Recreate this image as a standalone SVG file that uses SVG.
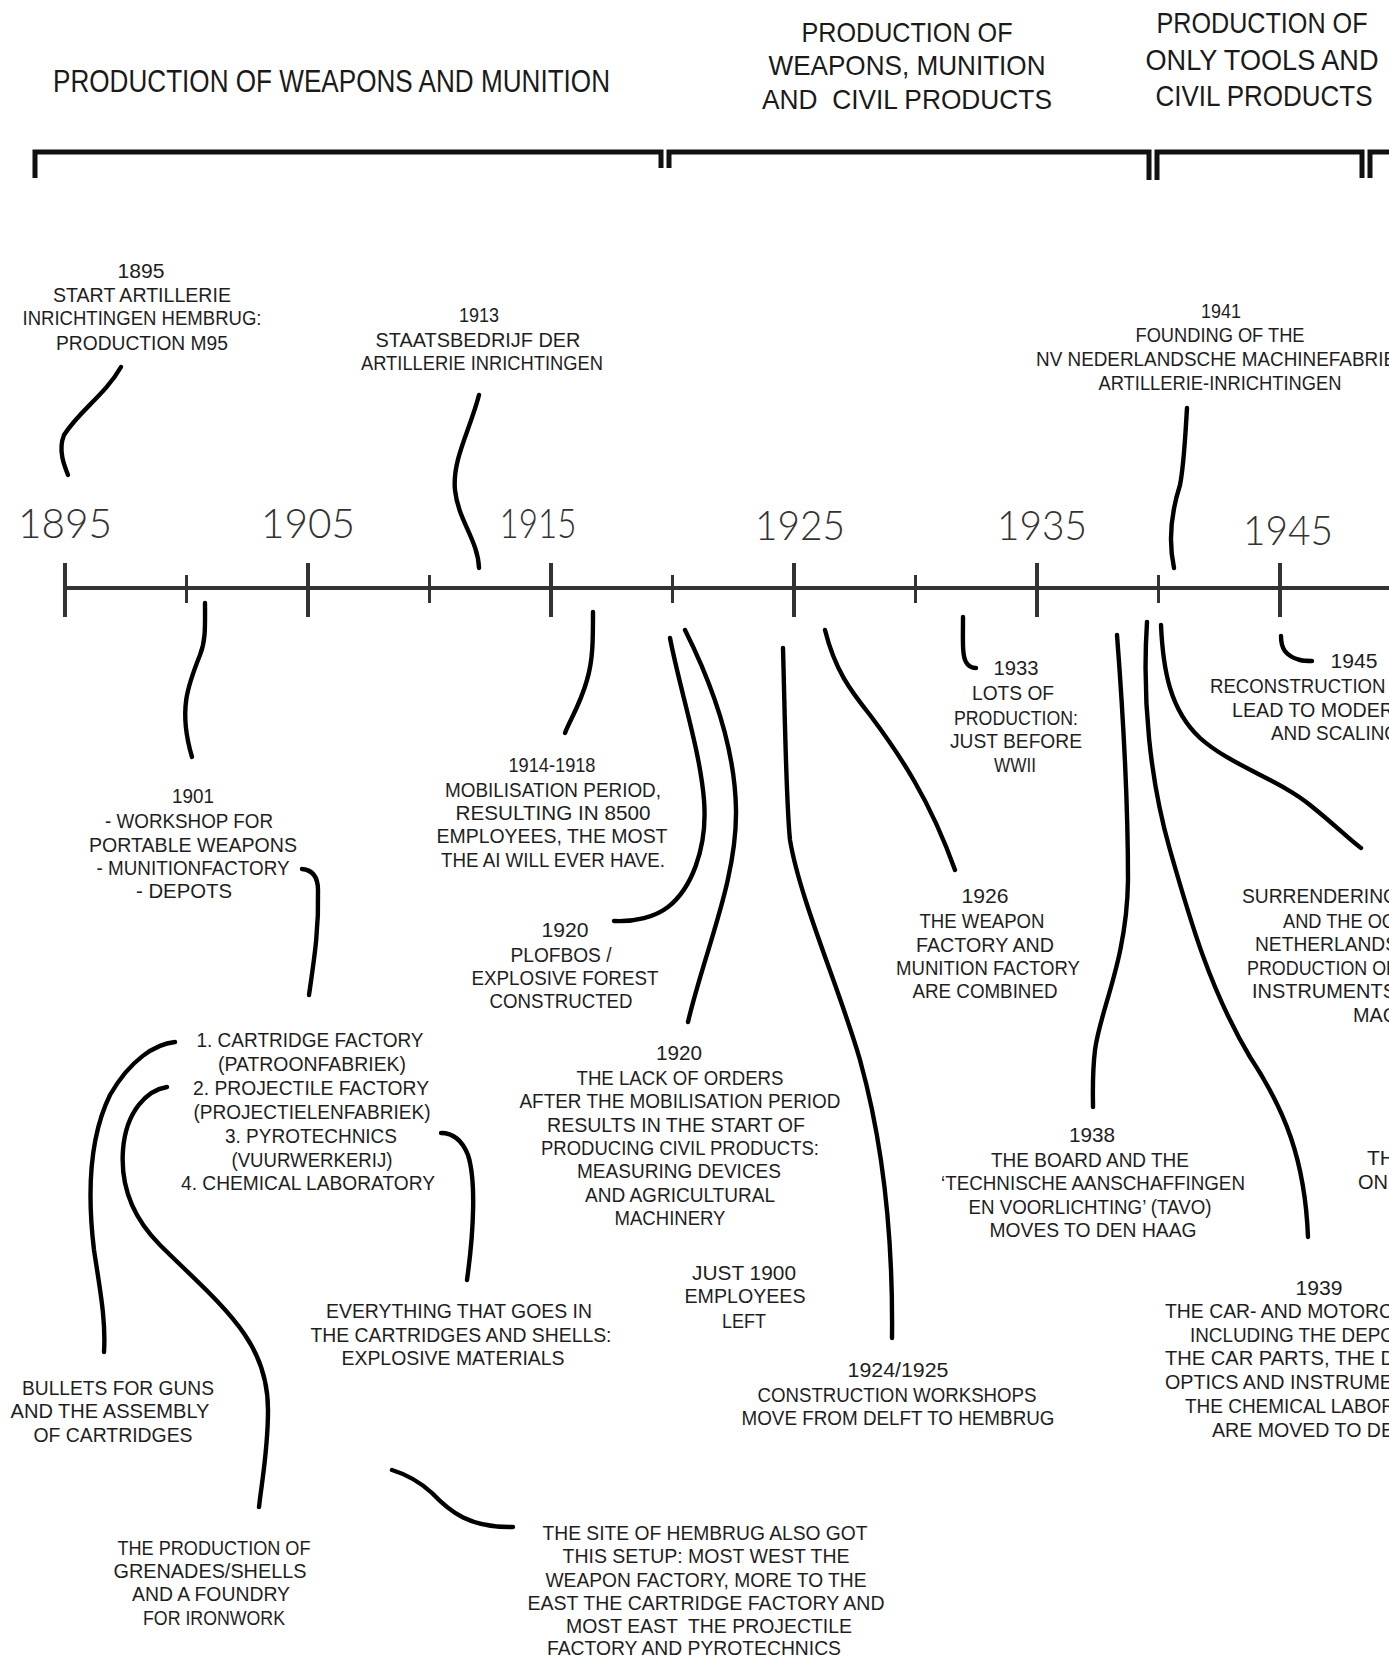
<svg xmlns="http://www.w3.org/2000/svg" width="1389" height="1658" viewBox="0 0 1389 1658">
<style>
  .bg { fill: #ffffff; }
  .title { font-family: "Liberation Sans", Arial, sans-serif; fill: #1a1a1a; }
  .t1 { font-size: 32px; }
  .t2 { font-size: 28px; }
  .t3 { font-size: 30px; }
  .yr { font-family: Lato, "Open Sans", "Liberation Sans", sans-serif; font-weight: 300; font-size: 42px; fill: #333; text-anchor: middle; }
  .n { font-family: "Liberation Sans", Arial, sans-serif; font-size: 20.5px; fill: #1e1e1e; text-anchor: middle; }
  .s { text-anchor: start; }
  .pre { white-space: pre; }
  .bracket { fill: none; stroke: #111; stroke-width: 5; stroke-linecap: butt; stroke-linejoin: miter; }
  .axis { stroke: #333; stroke-width: 4; }
  .major { stroke: #333; stroke-width: 4; }
  .minor { stroke: #333; stroke-width: 3; }
  .con { fill: none; stroke: #000; stroke-width: 4.4; stroke-linecap: round; stroke-linejoin: round; }
</style>
<rect class="bg" x="0" y="0" width="1389" height="1658"/>

<g id="periods">
  <g id="period-weapons">
    <text class="title t1" x="53" y="92" textLength="557" lengthAdjust="spacingAndGlyphs">PRODUCTION OF WEAPONS AND MUNITION</text>
    <path class="bracket" d="M35,178 V152 H661 V168"/>
  </g>
  <g id="period-mixed">
    <text class="title t2" text-anchor="middle" x="907" y="42" textLength="211" lengthAdjust="spacingAndGlyphs">PRODUCTION OF</text>
    <text class="title t2" text-anchor="middle" x="907" y="75" textLength="277" lengthAdjust="spacingAndGlyphs">WEAPONS, MUNITION</text>
    <text class="title t2 pre" xml:space="preserve" text-anchor="middle" x="907" y="109" textLength="290" lengthAdjust="spacingAndGlyphs">AND  CIVIL PRODUCTS</text>
    <path class="bracket" d="M669,168 V152 H1149 V180"/>
  </g>
  <g id="period-civil">
    <text class="title t3" text-anchor="middle" x="1262" y="33" textLength="211" lengthAdjust="spacingAndGlyphs">PRODUCTION OF</text>
    <text class="title t3" text-anchor="middle" x="1262" y="70" textLength="233" lengthAdjust="spacingAndGlyphs">ONLY TOOLS AND</text>
    <text class="title t3" text-anchor="middle" x="1264" y="106" textLength="217" lengthAdjust="spacingAndGlyphs">CIVIL PRODUCTS</text>
    <path class="bracket" d="M1157,180 V152 H1362 V178"/>
  </g>
  <g id="period-next">
    <path class="bracket" d="M1370,178 V152 H1395"/>
  </g>
</g>

<g id="timeline">
  <line class="axis" x1="65" y1="588" x2="1395" y2="588"/>
  <line class="major" x1="65" y1="563" x2="65" y2="617"/>
  <line class="major" x1="308" y1="563" x2="308" y2="617"/>
  <line class="major" x1="551" y1="563" x2="551" y2="617"/>
  <line class="major" x1="794" y1="563" x2="794" y2="617"/>
  <line class="major" x1="1037" y1="563" x2="1037" y2="617"/>
  <line class="major" x1="1280" y1="563" x2="1280" y2="617"/>
  <line class="minor" x1="186.5" y1="575" x2="186.5" y2="603"/>
  <line class="minor" x1="429.5" y1="575" x2="429.5" y2="603"/>
  <line class="minor" x1="672.5" y1="575" x2="672.5" y2="603"/>
  <line class="minor" x1="915.5" y1="575" x2="915.5" y2="603"/>
  <line class="minor" x1="1158.5" y1="575" x2="1158.5" y2="603"/>
  <text class="yr" x="65" y="538" textLength="94" lengthAdjust="spacingAndGlyphs">1895</text>
  <text class="yr" x="308" y="538" textLength="94" lengthAdjust="spacingAndGlyphs">1905</text>
  <text class="yr" x="538" y="538" textLength="77" lengthAdjust="spacingAndGlyphs">1915</text>
  <text class="yr" x="800" y="540" textLength="90" lengthAdjust="spacingAndGlyphs">1925</text>
  <text class="yr" x="1042" y="540" textLength="90" lengthAdjust="spacingAndGlyphs">1935</text>
  <text class="yr" x="1288" y="545" textLength="90" lengthAdjust="spacingAndGlyphs">1945</text>
</g>

<g id="connectors">
  <path class="con" d="M121,367 C105,395 80,410 64,435 C58,450 64,465 68,475"/>
  <path class="con" d="M479,395 C470,430 452,460 455,490 C458,520 478,540 479,568"/>
  <path class="con" d="M1187,408 C1185,440 1184,465 1180,485 C1172,510 1168,540 1174,568"/>
  <path class="con" d="M205,603 C205,625 206,640 200,655 C188,685 178,710 192,757"/>
  <path class="con" d="M302,869 C312,870 318,876 318,890 C319,930 314,960 309,995"/>
  <path class="con" d="M175,1042 C155,1044 130,1060 110,1095 C88,1140 88,1200 94,1250 C100,1290 106,1320 104,1352"/>
  <path class="con" d="M167,1087 C148,1090 126,1110 123,1150 C120,1190 135,1220 160,1245 C190,1275 225,1305 245,1335 C262,1360 268,1385 268,1410 C268,1450 262,1480 259,1507"/>
  <path class="con" d="M441,1133 C452,1133 462,1140 468,1155 C476,1180 474,1230 467,1280"/>
  <path class="con" d="M392,1470 C405,1474 420,1482 432,1493 C450,1512 470,1528 513,1527"/>
  <path class="con" d="M593,612 C593,640 593,660 587,680 C580,705 570,720 565,733"/>
  <path class="con" d="M670,638 C680,690 700,750 704,800 C708,850 690,890 668,907 C655,917 635,922 614,921"/>
  <path class="con" d="M685,630 C705,670 735,740 736,810 C737,880 705,950 688,1022"/>
  <path class="con" d="M783,648 C785,720 786,800 790,840 C800,900 840,990 860,1060 C885,1150 893,1250 892,1338"/>
  <path class="con" d="M825,630 C835,670 850,690 870,715 C900,755 930,800 955,870"/>
  <path class="con" d="M963,617 C963,640 962,655 966,662 C968,666 972,668 976,668"/>
  <path class="con" d="M1117,635 C1122,700 1128,800 1128,880 C1127,960 1100,1010 1095,1050 C1092,1075 1093,1095 1093,1107"/>
  <path class="con" d="M1147,622 C1142,700 1150,780 1170,850 C1190,920 1210,990 1250,1057 C1285,1110 1305,1160 1308,1237"/>
  <path class="con" d="M1161,625 C1163,670 1170,710 1200,738 C1230,765 1280,780 1310,805 C1335,825 1350,840 1361,848"/>
  <path class="con" d="M1281,636 C1281,648 1285,656 1300,660 C1304,661 1308,661 1312,661"/>
</g>

<g id="note-1895">
  <text class="n" x="141" y="278" textLength="47" lengthAdjust="spacingAndGlyphs">1895</text>
  <text class="n" x="142" y="302" textLength="178" lengthAdjust="spacingAndGlyphs">START ARTILLERIE</text>
  <text class="n" x="142" y="325" textLength="239" lengthAdjust="spacingAndGlyphs">INRICHTINGEN HEMBRUG:</text>
  <text class="n" x="142" y="350" textLength="172" lengthAdjust="spacingAndGlyphs">PRODUCTION M95</text>
</g>

<g id="note-1913">
  <text class="n" x="479" y="322" textLength="40" lengthAdjust="spacingAndGlyphs">1913</text>
  <text class="n" x="478" y="347" textLength="205" lengthAdjust="spacingAndGlyphs">STAATSBEDRIJF DER</text>
  <text class="n" x="482" y="370" textLength="242" lengthAdjust="spacingAndGlyphs">ARTILLERIE INRICHTINGEN</text>
</g>

<g id="note-1941">
  <text class="n" x="1221" y="318" textLength="40" lengthAdjust="spacingAndGlyphs">1941</text>
  <text class="n" x="1220" y="342" textLength="169" lengthAdjust="spacingAndGlyphs">FOUNDING OF THE</text>
  <text class="n s" x="1036" y="366" textLength="360" lengthAdjust="spacingAndGlyphs">NV NEDERLANDSCHE MACHINEFABRIE</text>
  <text class="n" x="1220" y="390" textLength="243" lengthAdjust="spacingAndGlyphs">ARTILLERIE-INRICHTINGEN</text>
</g>

<g id="note-1901">
  <text class="n" x="193" y="803" textLength="42" lengthAdjust="spacingAndGlyphs">1901</text>
  <text class="n" x="189" y="828" textLength="168" lengthAdjust="spacingAndGlyphs">- WORKSHOP FOR</text>
  <text class="n" x="193" y="852" textLength="208" lengthAdjust="spacingAndGlyphs">PORTABLE WEAPONS</text>
  <text class="n" x="193" y="875" textLength="193" lengthAdjust="spacingAndGlyphs">- MUNITIONFACTORY</text>
  <text class="n" x="184" y="898" textLength="96" lengthAdjust="spacingAndGlyphs">- DEPOTS</text>
</g>

<g id="note-factories">
  <text class="n" x="310" y="1047" textLength="227" lengthAdjust="spacingAndGlyphs">1. CARTRIDGE FACTORY</text>
  <text class="n" x="312" y="1071" textLength="188" lengthAdjust="spacingAndGlyphs">(PATROONFABRIEK)</text>
  <text class="n" x="311" y="1095" textLength="236" lengthAdjust="spacingAndGlyphs">2. PROJECTILE FACTORY</text>
  <text class="n" x="312" y="1119" textLength="237" lengthAdjust="spacingAndGlyphs">(PROJECTIELENFABRIEK)</text>
  <text class="n" x="311" y="1143" textLength="172" lengthAdjust="spacingAndGlyphs">3. PYROTECHNICS</text>
  <text class="n" x="312" y="1167" textLength="161" lengthAdjust="spacingAndGlyphs">(VUURWERKERIJ)</text>
  <text class="n" x="308" y="1190" textLength="254" lengthAdjust="spacingAndGlyphs">4. CHEMICAL LABORATORY</text>
</g>

<g id="note-1914-1918">
  <text class="n" x="552" y="772" textLength="87" lengthAdjust="spacingAndGlyphs">1914-1918</text>
  <text class="n" x="553" y="797" textLength="216" lengthAdjust="spacingAndGlyphs">MOBILISATION PERIOD,</text>
  <text class="n" x="553" y="820" textLength="195" lengthAdjust="spacingAndGlyphs">RESULTING IN 8500</text>
  <text class="n" x="552" y="843" textLength="231" lengthAdjust="spacingAndGlyphs">EMPLOYEES, THE MOST</text>
  <text class="n" x="553" y="867" textLength="224" lengthAdjust="spacingAndGlyphs">THE AI WILL EVER HAVE.</text>
</g>

<g id="note-1920-plofbos">
  <text class="n" x="565" y="937" textLength="47" lengthAdjust="spacingAndGlyphs">1920</text>
  <text class="n" x="561" y="962" textLength="101" lengthAdjust="spacingAndGlyphs">PLOFBOS /</text>
  <text class="n" x="565" y="985" textLength="187" lengthAdjust="spacingAndGlyphs">EXPLOSIVE FOREST</text>
  <text class="n" x="561" y="1008" textLength="143" lengthAdjust="spacingAndGlyphs">CONSTRUCTED</text>
</g>

<g id="note-1933">
  <text class="n" x="1016" y="675" textLength="45" lengthAdjust="spacingAndGlyphs">1933</text>
  <text class="n" x="1013" y="700" textLength="82" lengthAdjust="spacingAndGlyphs">LOTS OF</text>
  <text class="n" x="1016" y="725" textLength="124" lengthAdjust="spacingAndGlyphs">PRODUCTION:</text>
  <text class="n" x="1016" y="748" textLength="132" lengthAdjust="spacingAndGlyphs">JUST BEFORE</text>
  <text class="n" x="1015" y="772" textLength="42" lengthAdjust="spacingAndGlyphs">WWII</text>
</g>

<g id="note-1926">
  <text class="n" x="985" y="903" textLength="47" lengthAdjust="spacingAndGlyphs">1926</text>
  <text class="n" x="982" y="928" textLength="125" lengthAdjust="spacingAndGlyphs">THE WEAPON</text>
  <text class="n" x="985" y="952" textLength="138" lengthAdjust="spacingAndGlyphs">FACTORY AND</text>
  <text class="n" x="988" y="975" textLength="184" lengthAdjust="spacingAndGlyphs">MUNITION FACTORY</text>
  <text class="n" x="985" y="998" textLength="145" lengthAdjust="spacingAndGlyphs">ARE COMBINED</text>
</g>

<g id="note-1945">
  <text class="n" x="1354" y="668" textLength="47" lengthAdjust="spacingAndGlyphs">1945</text>
  <text class="n s" x="1210" y="693" textLength="192" lengthAdjust="spacingAndGlyphs">RECONSTRUCTION A</text>
  <text class="n s" x="1232" y="717" textLength="162" lengthAdjust="spacingAndGlyphs">LEAD TO MODER</text>
  <text class="n s" x="1271" y="740" textLength="128" lengthAdjust="spacingAndGlyphs">AND SCALING</text>
</g>

<g id="note-surrendering">
  <text class="n s" x="1242" y="903" textLength="156" lengthAdjust="spacingAndGlyphs">SURRENDERING</text>
  <text class="n s" x="1283" y="928" textLength="112" lengthAdjust="spacingAndGlyphs">AND THE OC</text>
  <text class="n s" x="1255" y="951" textLength="143" lengthAdjust="spacingAndGlyphs">NETHERLANDS</text>
  <text class="n s" x="1247" y="975" textLength="150" lengthAdjust="spacingAndGlyphs">PRODUCTION OF</text>
  <text class="n s" x="1252" y="998" textLength="144" lengthAdjust="spacingAndGlyphs">INSTRUMENTS</text>
  <text class="n s" x="1353" y="1022" textLength="44" lengthAdjust="spacingAndGlyphs">MAC</text>
</g>

<g id="note-th-on">
  <text class="n s" x="1367" y="1165" textLength="28" lengthAdjust="spacingAndGlyphs">TH</text>
  <text class="n s" x="1358" y="1189" textLength="30" lengthAdjust="spacingAndGlyphs">ON</text>
</g>

<g id="note-1938">
  <text class="n" x="1092" y="1142" textLength="46" lengthAdjust="spacingAndGlyphs">1938</text>
  <text class="n" x="1090" y="1167" textLength="198" lengthAdjust="spacingAndGlyphs">THE BOARD AND THE</text>
  <text class="n" x="1093" y="1190" textLength="304" lengthAdjust="spacingAndGlyphs">‘TECHNISCHE AANSCHAFFINGEN</text>
  <text class="n" x="1090" y="1214" textLength="243" lengthAdjust="spacingAndGlyphs">EN VOORLICHTING’ (TAVO)</text>
  <text class="n" x="1093" y="1237" textLength="207" lengthAdjust="spacingAndGlyphs">MOVES TO DEN HAAG</text>
</g>

<g id="note-1939">
  <text class="n" x="1319" y="1295" textLength="47" lengthAdjust="spacingAndGlyphs">1939</text>
  <text class="n s" x="1165" y="1318" textLength="228" lengthAdjust="spacingAndGlyphs">THE CAR- AND MOTORC</text>
  <text class="n s" x="1190" y="1342" textLength="205" lengthAdjust="spacingAndGlyphs">INCLUDING THE DEPO</text>
  <text class="n s" x="1165" y="1365" textLength="230" lengthAdjust="spacingAndGlyphs">THE CAR PARTS, THE D</text>
  <text class="n s" x="1165" y="1389" textLength="228" lengthAdjust="spacingAndGlyphs">OPTICS AND INSTRUME</text>
  <text class="n s" x="1185" y="1413" textLength="210" lengthAdjust="spacingAndGlyphs">THE CHEMICAL LABOR</text>
  <text class="n s" x="1212" y="1437" textLength="182" lengthAdjust="spacingAndGlyphs">ARE MOVED TO DE</text>
</g>

<g id="note-1920-orders">
  <text class="n" x="679" y="1060" textLength="46" lengthAdjust="spacingAndGlyphs">1920</text>
  <text class="n" x="680" y="1085" textLength="207" lengthAdjust="spacingAndGlyphs">THE LACK OF ORDERS</text>
  <text class="n" x="680" y="1108" textLength="321" lengthAdjust="spacingAndGlyphs">AFTER THE MOBILISATION PERIOD</text>
  <text class="n" x="676" y="1132" textLength="258" lengthAdjust="spacingAndGlyphs">RESULTS IN THE START OF</text>
  <text class="n" x="680" y="1155" textLength="278" lengthAdjust="spacingAndGlyphs">PRODUCING CIVIL PRODUCTS:</text>
  <text class="n" x="679" y="1178" textLength="204" lengthAdjust="spacingAndGlyphs">MEASURING DEVICES</text>
  <text class="n" x="680" y="1202" textLength="190" lengthAdjust="spacingAndGlyphs">AND AGRICULTURAL</text>
  <text class="n" x="670" y="1225" textLength="111" lengthAdjust="spacingAndGlyphs">MACHINERY</text>
</g>

<g id="note-1900-employees">
  <text class="n" x="744" y="1280" textLength="104" lengthAdjust="spacingAndGlyphs">JUST 1900</text>
  <text class="n" x="745" y="1303" textLength="121" lengthAdjust="spacingAndGlyphs">EMPLOYEES</text>
  <text class="n" x="744" y="1328" textLength="44" lengthAdjust="spacingAndGlyphs">LEFT</text>
</g>

<g id="note-1924-1925">
  <text class="n" x="898" y="1377" textLength="101" lengthAdjust="spacingAndGlyphs">1924/1925</text>
  <text class="n" x="897" y="1402" textLength="279" lengthAdjust="spacingAndGlyphs">CONSTRUCTION WORKSHOPS</text>
  <text class="n" x="898" y="1425" textLength="313" lengthAdjust="spacingAndGlyphs">MOVE FROM DELFT TO HEMBRUG</text>
</g>

<g id="note-explosives">
  <text class="n" x="459" y="1318" textLength="266" lengthAdjust="spacingAndGlyphs">EVERYTHING THAT GOES IN</text>
  <text class="n" x="461" y="1342" textLength="301" lengthAdjust="spacingAndGlyphs">THE CARTRIDGES AND SHELLS:</text>
  <text class="n" x="453" y="1365" textLength="223" lengthAdjust="spacingAndGlyphs">EXPLOSIVE MATERIALS</text>
</g>

<g id="note-bullets">
  <text class="n" x="118" y="1395" textLength="192" lengthAdjust="spacingAndGlyphs">BULLETS FOR GUNS</text>
  <text class="n" x="110" y="1418" textLength="199" lengthAdjust="spacingAndGlyphs">AND THE ASSEMBLY</text>
  <text class="n" x="113" y="1442" textLength="159" lengthAdjust="spacingAndGlyphs">OF CARTRIDGES</text>
</g>

<g id="note-grenades">
  <text class="n" x="214" y="1555" textLength="193" lengthAdjust="spacingAndGlyphs">THE PRODUCTION OF</text>
  <text class="n" x="210" y="1578" textLength="193" lengthAdjust="spacingAndGlyphs">GRENADES/SHELLS</text>
  <text class="n" x="211" y="1601" textLength="158" lengthAdjust="spacingAndGlyphs">AND A FOUNDRY</text>
  <text class="n" x="214" y="1625" textLength="142" lengthAdjust="spacingAndGlyphs">FOR IRONWORK</text>
</g>

<g id="note-site">
  <text class="n" x="705" y="1540" textLength="325" lengthAdjust="spacingAndGlyphs">THE SITE OF HEMBRUG ALSO GOT</text>
  <text class="n" x="706" y="1563" textLength="287" lengthAdjust="spacingAndGlyphs">THIS SETUP: MOST WEST THE</text>
  <text class="n" x="706" y="1587" textLength="321" lengthAdjust="spacingAndGlyphs">WEAPON FACTORY, MORE TO THE</text>
  <text class="n" x="706" y="1610" textLength="357" lengthAdjust="spacingAndGlyphs">EAST THE CARTRIDGE FACTORY AND</text>
  <text class="n pre" xml:space="preserve" x="709" y="1633" textLength="286" lengthAdjust="spacingAndGlyphs">MOST EAST  THE PROJECTILE</text>
  <text class="n" x="694" y="1655" textLength="294" lengthAdjust="spacingAndGlyphs">FACTORY AND PYROTECHNICS</text>
</g>
</svg>
